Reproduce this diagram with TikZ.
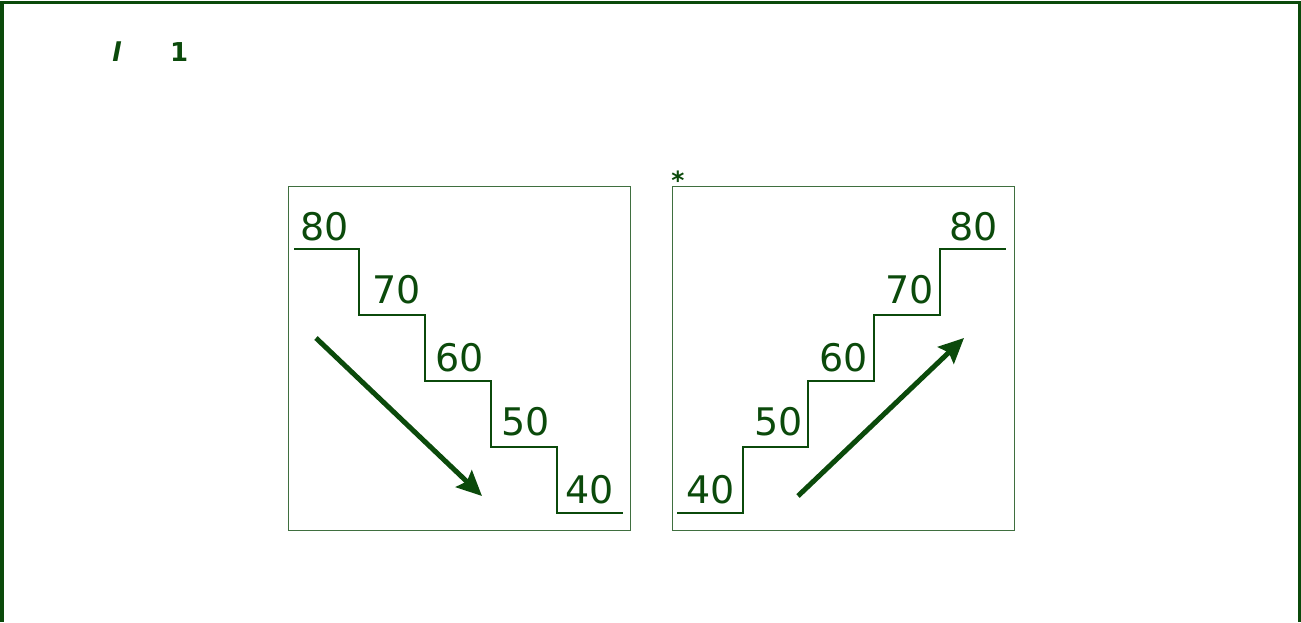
\documentclass[tikz,border=0pt]{standalone}
\usepackage{fontspec}
\setmainfont{DejaVu Sans}
\usetikzlibrary{arrows.meta,positioning}
\definecolor{stairGreen}{HTML}{0B4A0B}
\definecolor{panelGreen}{HTML}{3F6F3F}

\begin{document}
\begin{tikzpicture}[x=1pt,y=-1pt,>={Stealth[length=25pt,width=23pt,inset=4pt]},
  lbl/.style={font=\fontsize{38}{40}\selectfont,text=stairGreen,inner sep=0pt,anchor=base west},
  mark1/.style={font=\fontsize{26}{28}\selectfont,text=stairGreen,inner sep=0pt,anchor=base west},
  panel/.style={draw=panelGreen,line width=1.2pt},
  stair/.style={draw=stairGreen,line width=2.6pt},
  trend/.style={->,draw=stairGreen,line width=5pt}]
\useasboundingbox (0,0) rectangle (1301,622);
\draw[stairGreen,line width=3.2pt] (2,622)--(2,2.5)--(1299.8,2.5)--(1299.8,622);
\node[mark1] (tl) at (112,61) {\bfseries\itshape l};
\node[mark1] (tn) at (170,61) {\bfseries 1};
\node[font=\fontsize{25}{27}\selectfont\bfseries,text=stairGreen,inner sep=0pt] (star) at (678,180) {*};
% descending panel
\draw[panel] (288.5,186.5) rectangle (630.5,530.5);
\draw[stair] (294,249) -| (359,315) -| (425,381) -| (491,447) -| (557,513) -- (623,513);
\node[lbl] (d80) at (300,240) {80};
\node[lbl] (d70) at (372,303) {70};
\node[lbl] (d60) at (435,371) {60};
\node[lbl] (d50) at (501,435) {50};
\node[lbl] (d40) at (565,503) {40};
\coordinate (dFrom) at (316,338);
\coordinate (dTo) at (482,496);
\draw[trend] (dFrom) -- (dTo);
% ascending panel
\draw[panel] (672.5,186.5) rectangle (1014.5,530.5);
\draw[stair] (677,513) -| (743,447) -| (808,381) -| (874,315) -| (940,249) -- (1006,249);
\node[lbl] (a40) at (686,503) {40};
\node[lbl] (a50) at (754,435) {50};
\node[lbl] (a60) at (819,371) {60};
\node[lbl] (a70) at (885,303) {70};
\node[lbl] (a80) at (949,240) {80};
\coordinate (aFrom) at (798,496);
\coordinate (aTo) at (964,338);
\draw[trend] (aFrom) -- (aTo);
\end{tikzpicture}
\end{document}
